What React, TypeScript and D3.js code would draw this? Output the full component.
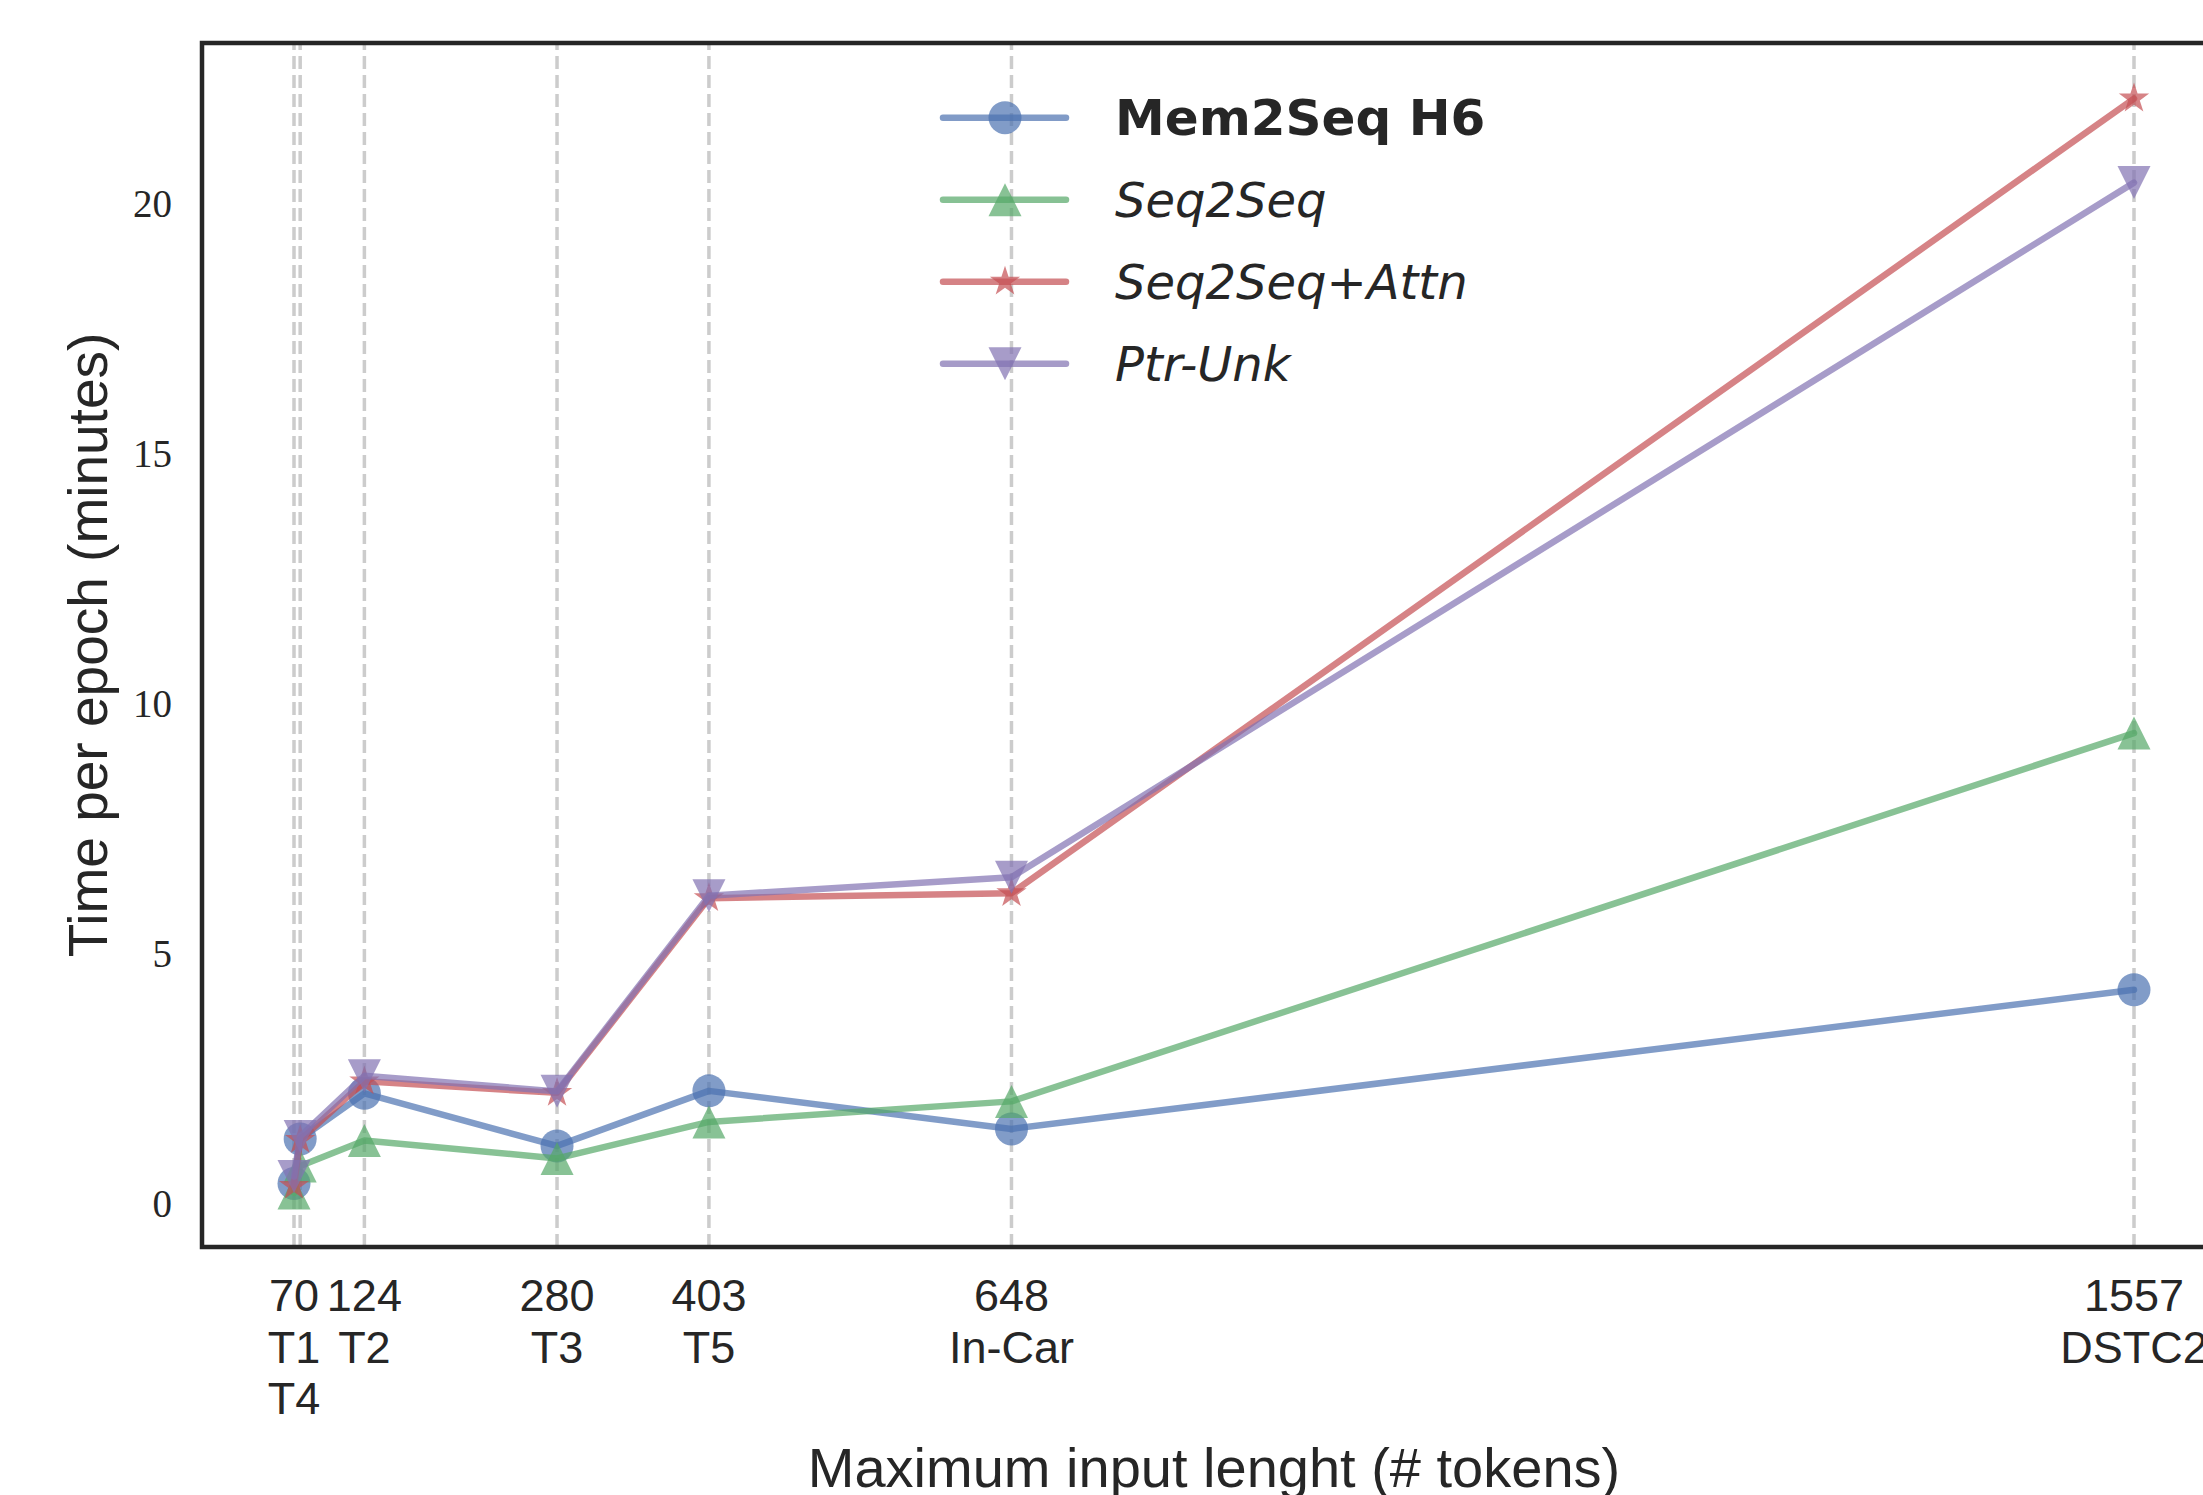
import React, { useEffect, useRef } from "react";
import * as d3 from "d3";

// datasets on the x axis (max input length in tokens)
const datasets = ["T1", "T4", "T2", "T3", "T5", "In-Car", "DSTC2"];
const maxInputLen = [67, 72, 124, 280, 403, 648, 1557];
const xTickLabels = [["70", "T1", "T4"], [], ["124", "T2"], ["280", "T3"], ["403", "T5"], ["648", "In-Car"], ["1557", "DSTC2"]];
const yTicks = [0, 5, 10, 15, 20];

// minutes per epoch
const mem2seqH6 = [0.41, 1.3, 2.21, 1.16, 2.26, 1.5, 4.28];
const seq2seq = [0.22, 0.76, 1.27, 0.91, 1.64, 2.05, 9.41];
const seq2seqAttn = [0.36, 1.28, 2.45, 2.22, 6.11, 6.21, 22.09];
const ptrUnk = [0.55, 1.35, 2.56, 2.25, 6.16, 6.53, 20.41];

const seriesNames = ["Mem2Seq H6", "Seq2Seq", "Seq2Seq+Attn", "Ptr-Unk"];
const seriesColors = ["#4C72B0", "#55A868", "#C44E52", "#8172B2"];
const seriesMarkers = ["circle", "triangleUp", "star", "triangleDown"];

const W = 2203;
const H = 1495;
const SANS = "'Liberation Sans', Arial, sans-serif";
const LEGEND_FONT = "'DejaVu Sans', sans-serif";

function markerPath(kind: string): string {
  const r = 16.5;
  if (kind === "circle") return d3.symbol(d3.symbolCircle, Math.PI * r * r)()!;
  if (kind === "star") return d3.symbol(d3.symbolStar, 285)()!;
  const p = d3.path();
  if (kind === "triangleUp") {
    p.moveTo(0, -r);
    p.lineTo(-r, r);
    p.lineTo(r, r);
  } else {
    p.moveTo(0, r);
    p.lineTo(-r, -r);
    p.lineTo(r, -r);
  }
  p.closePath();
  return p.toString();
}

export default function App() {
  const ref = useRef<SVGSVGElement>(null);

  useEffect(() => {
    const svg = d3.select(ref.current);
    svg.selectAll("*").remove();

    const left = 202, top = 43, bottom = 1247, right = 2226;
    const x = d3.scaleLinear().domain([-7.5, 1631.5]).range([left, right]);
    const y = d3.scaleLinear().domain([-0.86, 23.2]).range([bottom, top]);

    svg.append("rect").attr("width", W).attr("height", H).attr("fill", "white");

    // dashed vertical grid at each dataset
    svg
      .selectAll(".grid")
      .data(maxInputLen)
      .enter()
      .append("line")
      .attr("x1", d => x(d))
      .attr("x2", d => x(d))
      .attr("y1", bottom)
      .attr("y2", top)
      .attr("stroke", "#cccccc")
      .attr("stroke-width", 3.5)
      .attr("stroke-dasharray", "13 6");

    // lines + markers
    const allSeries = [mem2seqH6, seq2seq, seq2seqAttn, ptrUnk];
    const line = d3
      .line<number>()
      .x((d, i) => x(maxInputLen[i]))
      .y(d => y(d));

    allSeries.forEach((vals, s) => {
      const g = svg.append("g");
      g.append("path")
        .attr("d", line(vals))
        .attr("fill", "none")
        .attr("stroke", seriesColors[s])
        .attr("stroke-width", 6.5)
        .attr("stroke-linejoin", "round")
        .attr("stroke-linecap", "round")
        .attr("opacity", 0.7);
      g.selectAll(".m")
        .data(vals)
        .enter()
        .append("path")
        .attr("d", markerPath(seriesMarkers[s]))
        .attr("transform", (d, i) => `translate(${x(maxInputLen[i])},${y(d)})`)
        .attr("fill", seriesColors[s])
        .attr("opacity", 0.7);
    });

    // frame
    svg
      .append("rect")
      .attr("x", left)
      .attr("y", top)
      .attr("width", right - left)
      .attr("height", bottom - top)
      .attr("fill", "none")
      .attr("stroke", "#262626")
      .attr("stroke-width", 4.5);

    // y tick labels
    svg
      .selectAll(".ytick")
      .data(yTicks)
      .enter()
      .append("text")
      .attr("x", 172)
      .attr("y", d => y(d))
      .attr("text-anchor", "end")
      .attr("dominant-baseline", "central")
      .style("font-family", "'Liberation Serif', 'DejaVu Serif', serif")
      .style("font-size", "39px")
      .attr("fill", "#262626")
      .text(d => d);

    // x tick labels (multi-line)
    xTickLabels.forEach((lines, i) => {
      const t = svg
        .append("text")
        .attr("text-anchor", "middle")
        .style("font-family", SANS)
        .style("font-size", "45px")
        .attr("fill", "#262626");
      lines.forEach((s, k) => {
        t.append("tspan")
          .attr("x", x(maxInputLen[i]))
          .attr("y", 1311 + k * 51.5)
          .text(s);
      });
    });

    // axis labels
    svg
      .append("text")
      .attr("x", (left + right) / 2)
      .attr("y", 1487)
      .attr("text-anchor", "middle")
      .style("font-family", SANS)
      .style("font-size", "56px")
      .attr("fill", "#262626")
      .text("Maximum input lenght (# tokens)");

    svg
      .append("text")
      .attr("transform", `translate(107,${(top + bottom) / 2}) rotate(-90)`)
      .attr("text-anchor", "middle")
      .style("font-family", SANS)
      .style("font-size", "55px")
      .attr("fill", "#262626")
      .text("Time per epoch (minutes)");

    // legend
    seriesNames.forEach((name, s) => {
      const cy = 117.7 + s * 82;
      const g = svg.append("g");
      g.append("line")
        .attr("x1", 943)
        .attr("x2", 1066)
        .attr("y1", cy)
        .attr("y2", cy)
        .attr("stroke", seriesColors[s])
        .attr("stroke-width", 6.5)
        .attr("stroke-linecap", "round")
        .attr("opacity", 0.7);
      g.append("path")
        .attr("d", markerPath(seriesMarkers[s]))
        .attr("transform", `translate(1005,${cy})`)
        .attr("fill", seriesColors[s])
        .attr("opacity", 0.7);
      g.append("text")
        .attr("x", 1115)
        .attr("y", cy)
        .attr("dominant-baseline", "central")
        .style("font-family", LEGEND_FONT)
        .style("font-size", s === 0 ? "50px" : "48px")
        .style("font-weight", s === 0 ? "bold" : "normal")
        .style("font-style", s === 0 ? "normal" : "italic")
        .attr("fill", "#262626")
        .text(name);
    });
  }, []);

  return (
    <svg
      ref={ref}
      width={W}
      height={H}
      style={{ position: "absolute", left: 0, top: 0, display: "block" }}
    />
  );
}
